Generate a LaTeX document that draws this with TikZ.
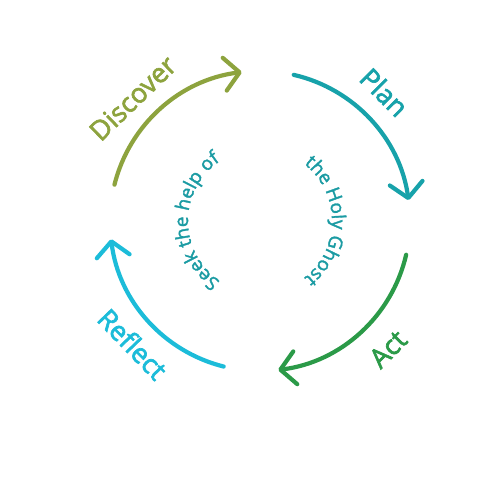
\documentclass[tikz,border=0pt]{standalone}
\usepackage{fontspec}
\setmainfont{Open Sans}
\newfontfamily\labfont[FakeBold=2.4]{Open Sans}
\newfontfamily\innerfont[FakeBold=1.8]{Open Sans}
\usetikzlibrary{arrows.meta,decorations.text}
\definecolor{cdisc}{HTML}{8DA33E}
\definecolor{cplan}{HTML}{17A2AA}
\definecolor{cact}{HTML}{2B9A48}
\definecolor{crefl}{HTML}{1CBCD9}
\definecolor{cinner}{HTML}{1B9BA3}
\tikzset{
  cyclearrow/.style={line width=4.2pt, line cap=round, line join=round,
    -{Straight Barb[length=15pt,width=33pt,line width=4.2pt,round]}},
  phase/.style={font=\labfont\fontsize{27}{32}\selectfont, inner sep=0pt},
}
\begin{document}
\begin{tikzpicture}[x=1pt,y=1pt]
\useasboundingbox (0,0) rectangle (500,-480);
\coordinate (c) at (260,-221);
% arrows
\draw[cyclearrow, cdisc]  ([shift={(166:150)}]c) arc[start angle=166, end angle=97, radius=150];
\draw[cyclearrow, cplan]  ([shift={(77:150)}]c) arc[start angle=77, end angle=8, radius=150];
\draw[cyclearrow, cact]   ([shift={(-13:150)}]c) arc[start angle=-13, end angle=-83, radius=150];
\draw[cyclearrow, crefl]  ([shift={(-104:150)}]c) arc[start angle=-104, end angle=-173, radius=150];
% labels
\node[phase, text=cdisc, rotate=44]  (disc) at ([shift={(136:177)}]c) {Discover};
\node[phase, text=cplan, rotate=-45] (plan) at ([shift={(46:179)}]c) {Plan};
\node[phase, text=cact,  rotate=45]  (act)  at ([shift={(-45:181)}]c) {Act};
\node[phase, text=crefl, rotate=-46] (refl) at ([shift={(224:177)}]c) {Reflect};
% inner text
\path[decorate, decoration={text along path, text align=center,
   text={|\innerfont\fontsize{19}{22}\selectfont\color{cinner}|Seek the help of}}]
   ([shift={(240:72)}]c) arc[start angle=240, end angle=120, radius=72];
\path[decorate, decoration={text along path, text align=center,
   text={|\innerfont\fontsize{19}{22}\selectfont\color{cinner}|the Holy Ghost}}]
   ([shift={(60:72)}]c) arc[start angle=60, end angle=-60, radius=72];
\end{tikzpicture}
\end{document}
